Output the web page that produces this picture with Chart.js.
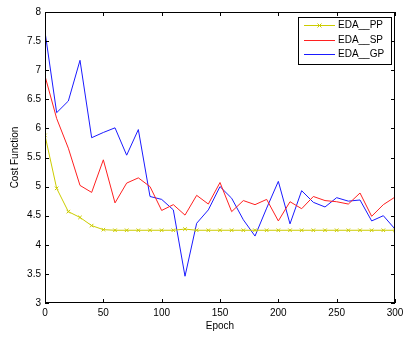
<!DOCTYPE html>
<html>
<head>
<meta charset="utf-8">
<script src="https://cdn.jsdelivr.net/npm/chart.js@4"></script>
<style>
  html, body { margin: 0; padding: 0; background: #fff; }
  #wrap { width: 403px; height: 338px; }
</style>
</head>
<body>
<div id="wrap"><canvas id="chart"></canvas></div>
<script>
// Epoch every 10 steps
const epochs = [0, 10, 20, 30, 40, 50, 60, 70, 80, 90, 100, 110, 120, 130, 140, 150,
  160, 170, 180, 190, 200, 210, 220, 230, 240, 250, 260, 270, 280, 290, 300];

const edaPP = [5.88, 4.97, 4.57, 4.47, 4.33, 4.26, 4.25, 4.25, 4.25, 4.25, 4.25, 4.25, 4.27, 4.25, 4.25, 4.25,
  4.25, 4.25, 4.25, 4.25, 4.25, 4.25, 4.25, 4.25, 4.25, 4.25, 4.25, 4.25, 4.25, 4.25, 4.25];
const edaSP = [6.90, 6.17, 5.66, 5.02, 4.90, 5.46, 4.72, 5.06, 5.15, 5.00, 4.59, 4.69, 4.51, 4.85, 4.70, 5.07,
  4.57, 4.76, 4.69, 4.78, 4.41, 4.74, 4.62, 4.83, 4.76, 4.74, 4.70, 4.89, 4.49, 4.69, 4.82];
const edaGP = [7.66, 6.27, 6.47, 7.17, 5.84, 5.93, 6.01, 5.54, 5.98, 4.83, 4.78, 4.60, 3.46, 4.37, 4.60, 5.00,
  4.80, 4.43, 4.15, 4.63, 5.09, 4.36, 4.93, 4.73, 4.65, 4.81, 4.75, 4.77, 4.41, 4.50, 4.27];

const seriesNames = ['EDA__PP', 'EDA__SP', 'EDA__GP'];
const seriesColors = ['#cccc00', '#ff2020', '#1a1aff'];

const xTicks = [0, 50, 100, 150, 200, 250, 300];
const yTicks = [3, 3.5, 4, 4.5, 5, 5.5, 6, 6.5, 7, 7.5, 8];

const toPoints = vals => vals.map((v, i) => ({ x: epochs[i], y: v }));

const FONT = 'Liberation Sans, Arial, sans-serif';

// matlab-ish box with inward ticks on all four sides
const boxPlugin = {
  id: 'box',
  afterDatasetsDraw(chart) {
    const { ctx, chartArea: a, scales } = chart;
    ctx.save();
    ctx.strokeStyle = '#000';
    ctx.lineWidth = 1;
    ctx.strokeRect(a.left + 0.5, a.top + 0.5, a.right - a.left - 1, a.bottom - a.top - 1);
    ctx.beginPath();
    const t = 4;
    xTicks.forEach(v => {
      const px = Math.round(scales.x.getPixelForValue(v)) + 0.5;
      ctx.moveTo(px, a.bottom); ctx.lineTo(px, a.bottom - t);
      ctx.moveTo(px, a.top); ctx.lineTo(px, a.top + t);
    });
    yTicks.forEach(v => {
      const py = Math.round(scales.y.getPixelForValue(v)) + 0.5;
      ctx.moveTo(a.left, py); ctx.lineTo(a.left + t, py);
      ctx.moveTo(a.right, py); ctx.lineTo(a.right - t, py);
    });
    ctx.stroke();

    // legend
    const lx = 298, ly = 17, lw = 93, lh = 47;
    ctx.fillStyle = '#fff';
    ctx.fillRect(lx, ly, lw, lh);
    ctx.strokeRect(lx + 0.5, ly + 0.5, lw, lh);
    ctx.font = '10px ' + FONT;
    ctx.textBaseline = 'middle';
    const rows = [25, 40, 54];
    seriesNames.forEach((name, i) => {
      const y = rows[i] + 0.5;
      ctx.strokeStyle = seriesColors[i];
      ctx.beginPath();
      ctx.moveTo(304, y); ctx.lineTo(335, y);
      ctx.stroke();
      if (i === 0) {
        ctx.beginPath();
        ctx.moveTo(317.5, y - 2); ctx.lineTo(321.5, y + 2);
        ctx.moveTo(317.5, y + 2); ctx.lineTo(321.5, y - 2);
        ctx.stroke();
      }
      ctx.fillStyle = '#000';
      ctx.fillText(name, 338, y);
    });
    ctx.restore();
  }
};

const ds = (label, vals, color, marker) => ({
  label,
  data: toPoints(vals),
  borderColor: color,
  backgroundColor: color,
  borderWidth: 1,
  pointStyle: marker ? 'crossRot' : false,
  pointRadius: marker ? 2.5 : 0,
  pointBorderWidth: 1,
  tension: 0
});

new Chart(document.getElementById('chart'), {
  type: 'line',
  data: {
    datasets: [
      ds(seriesNames[0], edaPP, seriesColors[0], true),
      ds(seriesNames[1], edaSP, seriesColors[1], false),
      ds(seriesNames[2], edaGP, seriesColors[2], false)
    ]
  },
  options: {
    responsive: true,
    maintainAspectRatio: false,
    animation: false,
    layout: { padding: { top: 12, right: 8, left: 0, bottom: 0 } },
    plugins: {
      legend: { display: false },
      tooltip: { enabled: false }
    },
    scales: {
      x: {
        type: 'linear',
        min: 0, max: 300,
        afterFit: s => { s.height = 35; s.paddingLeft = 0; s.paddingRight = 0; },
        afterBuildTicks: s => { s.ticks = xTicks.map(v => ({ value: v })); },
        grid: { display: false, drawTicks: false, tickLength: 0 },
        border: { display: false },
        ticks: { color: '#000', font: { family: FONT, size: 10 }, padding: 4, maxRotation: 0, callback: v => String(v) },
        title: { display: true, text: 'Epoch', color: '#000', font: { family: FONT, size: 10 }, padding: { top: 0, bottom: 6 } }
      },
      y: {
        min: 3, max: 8,
        afterFit: s => { s.width = 45; s.paddingTop = 0; s.paddingBottom = 0; },
        afterBuildTicks: s => { s.ticks = yTicks.map(v => ({ value: v })); },
        grid: { display: false, drawTicks: false, tickLength: 0 },
        border: { display: false },
        ticks: { color: '#000', font: { family: FONT, size: 10 }, padding: 4, callback: v => String(v) },
        title: { display: true, text: 'Cost Function', color: '#000', font: { family: FONT, size: 10 }, padding: { top: 9, bottom: 0 } }
      }
    }
  },
  plugins: [boxPlugin]
});
</script>
</body>
</html>
